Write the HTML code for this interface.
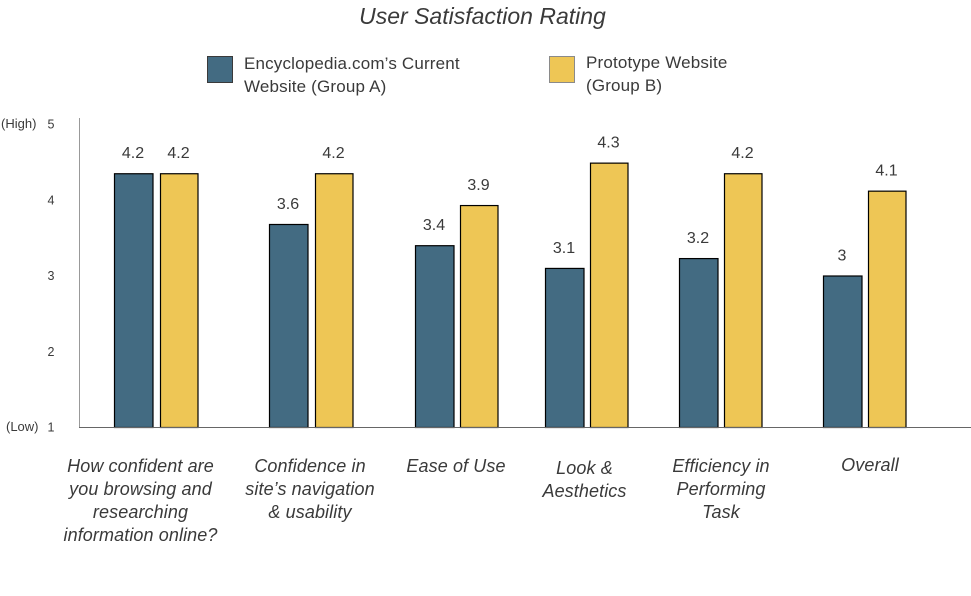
<!DOCTYPE html>
<html lang="en">
<head>
<meta charset="utf-8">
<title>User Satisfaction Rating</title>
<style>
  html, body { margin: 0; padding: 0; background: #fff; }
  body { width: 971px; height: 596px; overflow: hidden; }
  svg { display: block; font-family: "Liberation Sans", sans-serif; fill: #3a3a3a; }
</style>
</head>
<body>
<svg id="chart" width="971" height="596" viewBox="0 0 971 596" xmlns="http://www.w3.org/2000/svg">
  <text x="482.5" y="24" text-anchor="middle" font-size="23" font-style="italic" letter-spacing="0">User Satisfaction Rating</text>

  <g>
    <rect x="207.5" y="56.5" width="25" height="26" fill="#436b82" stroke="#3a3a3a" stroke-width="1"/>
    <text font-size="17" letter-spacing="0.17">
      <tspan x="244" y="69">Encyclopedia.com’s Current</tspan>
      <tspan x="244" y="92">Website (Group A)</tspan>
    </text>
    <rect x="549.5" y="56.5" width="25" height="26" fill="#eec655" stroke="#8a8a8a" stroke-width="1"/>
    <text font-size="17" letter-spacing="0.17">
      <tspan x="586" y="68">Prototype Website</tspan>
      <tspan x="586" y="91">(Group B)</tspan>
    </text>
  </g>

  <g id="bars"></g>
  <g id="value-labels"></g>

  <line x1="79.5" y1="118" x2="79.5" y2="428" stroke="#999" stroke-width="1"/>
  <line x1="79" y1="427.5" x2="971" y2="427.5" stroke="#666" stroke-width="1"/>

  <text x="1" y="128" font-size="13">(High)</text>
  <text x="6" y="431" font-size="13">(Low)</text>
  <g id="y-ticks"></g>
  <g id="x-labels"></g>
</svg>

<script>
// Category labels, one entry per line
const categories = [
  ["How confident are", "you browsing and", "researching", "information online?"],
  ["Confidence in", "site’s navigation", "& usability"],
  ["Ease of Use"],
  ["Look &", "Aesthetics"],
  ["Efficiency in", "Performing", "Task"],
  ["Overall"]
];

// Bar heights as read against the y axis
const groupAValues = [4.35, 3.68, 3.40, 3.10, 3.23, 3.00];
const groupBValues = [4.35, 4.35, 3.93, 4.49, 4.35, 4.12];

// Values printed above the bars
const groupALabels = ["4.2", "3.6", "3.4", "3.1", "3.2", "3"];
const groupBLabels = ["4.2", "4.2", "3.9", "4.3", "4.2", "4.1"];

const yTickLabels = ["1", "2", "3", "4", "5"];

const NS = "http://www.w3.org/2000/svg";

// Value axis: 1 sits on the baseline, 5 near the top of the axis line
function yScale(v) {
  return 427.5 - (v - 1) * 75.75;
}

// Unevenly spaced category axis, as in the source layout
function bandStart(i) {
  const offsets = [0, 155, 301, 431, 565, 709];
  return 114 + offsets[i];
}
function barAX(i) { return bandStart(i); }
function barBX(i) {
  const gaps = [46, 46, 45, 45, 45, 45];
  return bandStart(i) + gaps[i];
}
function labelCenter(i) {
  const offsets = [26.5, 41, 41, 39.5, 42, 47];
  return bandStart(i) + offsets[i];
}
function labelBaseline(i, line) {
  const starts = [472, 472, 472, 474, 472, 471];
  return starts[i] + line * 23;
}

const barsG = document.getElementById("bars");
const valuesG = document.getElementById("value-labels");
const ticksG = document.getElementById("y-ticks");
const xLabelsG = document.getElementById("x-labels");

function addBar(x, value, width, fill) {
  const top = yScale(value);
  const r = document.createElementNS(NS, "rect");
  r.setAttribute("x", x + 0.5);
  r.setAttribute("y", top);
  r.setAttribute("width", width);
  r.setAttribute("height", 427.5 - top);
  r.setAttribute("fill", fill);
  r.setAttribute("stroke", "#000");
  r.setAttribute("stroke-width", "1.2");
  barsG.appendChild(r);
  return r;
}

function addValue(x, value, text) {
  const t = document.createElementNS(NS, "text");
  t.setAttribute("x", x);
  t.setAttribute("y", yScale(value) - 15.5);
  t.setAttribute("text-anchor", "middle");
  t.setAttribute("font-size", "16");
  t.textContent = text;
  valuesG.appendChild(t);
  return t;
}

categories.forEach(function (lines, i) {
  const a = addBar(barAX(i), groupAValues[i], 38.5, "#436b82");
  
  

  const b = addBar(barBX(i), groupBValues[i], 37.5, "#eec655");
  
  

  const va = addValue(barAX(i) + 19, groupAValues[i], groupALabels[i]);
  
  

  const vb = addValue(barBX(i) + 18.5, groupBValues[i], groupBLabels[i]);
  
  

  const label = document.createElementNS(NS, "text");
  
  
  label.setAttribute("text-anchor", "middle");
  label.setAttribute("font-size", "18");
  label.setAttribute("font-style", "italic");
  label.setAttribute("letter-spacing", "0.1");
  lines.forEach(function (line, n) {
    const span = document.createElementNS(NS, "tspan");
    span.setAttribute("x", labelCenter(i));
    span.setAttribute("y", labelBaseline(i, n));
    span.textContent = line;
    label.appendChild(span);
  });
  xLabelsG.appendChild(label);
});

yTickLabels.forEach(function (tick) {
  const t = document.createElementNS(NS, "text");
  
  
  t.setAttribute("x", 51);
  t.setAttribute("y", yScale(Number(tick)) + 4);
  t.setAttribute("text-anchor", "middle");
  t.setAttribute("font-size", "12.5");
  t.textContent = tick;
  ticksG.appendChild(t);
});
</script>
</body>
</html>
